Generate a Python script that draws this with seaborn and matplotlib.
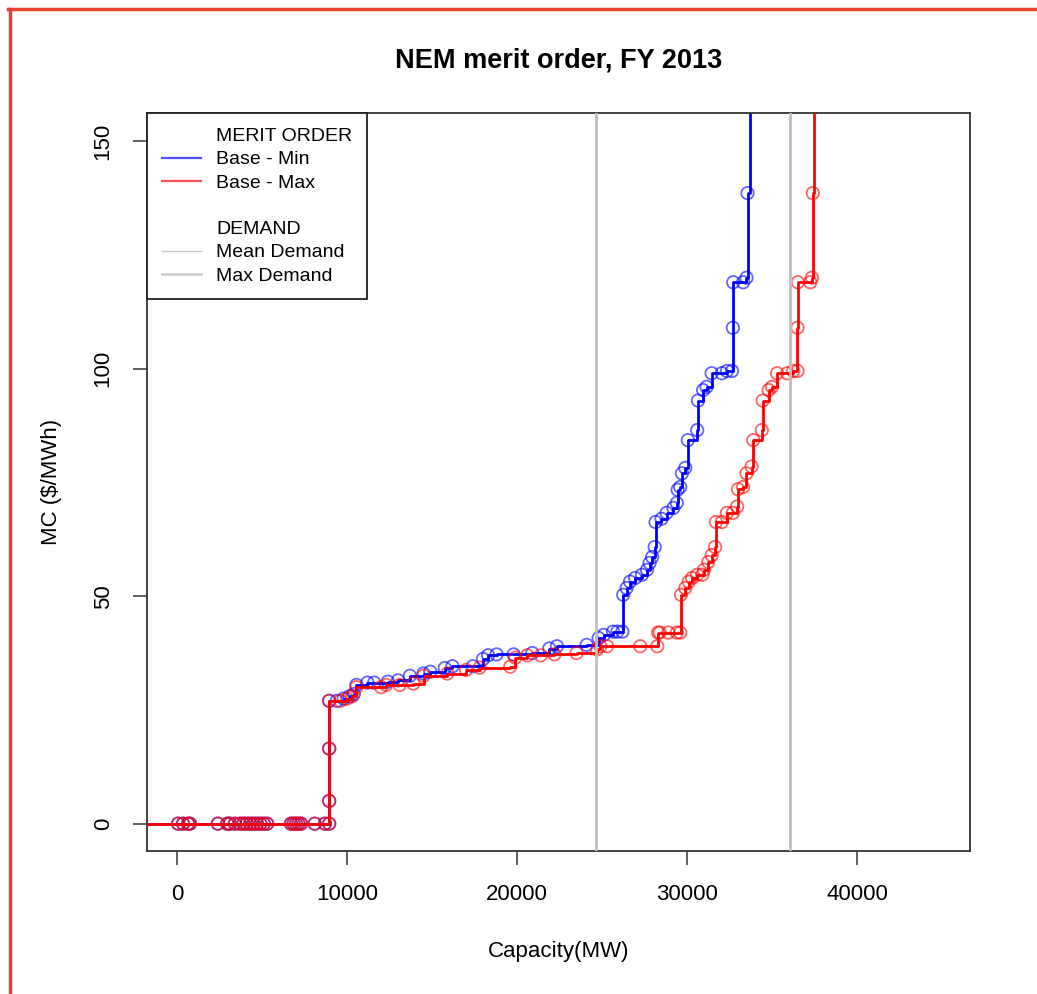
import pandas as pd
import seaborn as sns
import matplotlib.pyplot as plt
from matplotlib.lines import Line2D

# merit order, cumulative capacity (MW) vs marginal cost ($/MWh)
zero_cap = [-2500, 60, 350, 650, 760, 2400, 2950, 3100, 3400, 3700, 3900, 4100,
            4300, 4500, 4700, 4900, 5100, 5300, 6700, 6850, 7000, 7150, 7300,
            8100, 8700, 8950]

min_cap = zero_cap + [
    8950, 8950, 8950, 9400, 9800, 10150, 10400, 10550, 11200, 11600, 12400,
    13000, 13700, 14500, 14900, 15750, 16200, 17400, 18000, 18300, 18800,
    19800, 20900, 21900, 22350, 24100, 24800, 25100, 25650, 25900, 26200,
    26250, 26450, 26650, 26950, 27350, 27650, 27800, 27950, 28100, 28150,
    28500, 28800, 29200, 29400, 29450, 29600, 29700, 29900, 30050, 30600,
    30650, 30950, 31150, 31450, 32050, 32350, 32650, 32700, 32720, 33300,
    33500, 33560, 33700]
min_mc = [0] * len(zero_cap) + [
    5, 16.5, 27, 27, 27.5, 28, 28.5, 30.5, 31, 31, 31.2,
    31.5, 32.5, 33, 33.4, 34.2, 34.6, 34.6, 36.2, 37, 37.2,
    37.2, 37.5, 38.5, 39, 39.3, 40.8, 41.5, 42.2, 42.2, 42.2,
    50.3, 51.8, 53.2, 54, 54.7, 55.8, 57.3, 58.6, 60.8, 66.3,
    67, 68.3, 69.4, 70.5, 73.4, 74, 77, 78.2, 84.3, 86.5,
    93, 95.3, 96, 99, 99, 99.5, 99.5, 109, 119, 119,
    120, 138.6, 300]

max_cap = zero_cap + [
    8950, 8950, 8950, 9600, 10000, 10300, 10550, 12000, 12300, 13100, 13900,
    14500, 15900, 17000, 17800, 19600, 19900, 20600, 21400, 22200, 23500,
    24700, 24900, 25300, 27250, 28250, 28300, 28400, 28900, 29400, 29600,
    29650, 29900, 30100, 30300, 30600, 30900, 31000, 31250, 31450, 31650,
    31700, 32050, 32350, 32700, 32950, 33000, 33300, 33500, 33800, 33900,
    34400, 34450, 34800, 35000, 35300, 35900, 36250, 36500, 36500, 36520,
    37250, 37350, 37400, 37500]
max_mc = [0] * len(zero_cap) + [
    5, 16.5, 27, 27, 27.5, 28, 30, 30, 30.5, 30.5, 30.8,
    32.5, 33, 33.8, 34.3, 34.5, 36.5, 37, 37, 37.2, 37.5,
    38.3, 39, 39, 39, 39, 42, 42, 42, 42, 42,
    50.3, 51.8, 53.2, 54, 54.7, 54.7, 55.8, 57.5, 59, 60.8,
    66.3, 66.3, 68.3, 68.3, 69.7, 73.5, 74, 77, 78.5, 84.3,
    86.5, 93, 95.3, 96, 99, 99, 99.5, 99.5, 109, 119,
    119, 120, 138.6, 300]

mean_demand = 24650
max_demand = 36060

df_min = pd.DataFrame({'cap': min_cap, 'mc': min_mc})
df_max = pd.DataFrame({'cap': max_cap, 'mc': max_mc})

plt.rcParams['font.family'] = ['Liberation Sans', 'DejaVu Sans']

fig = plt.figure(figsize=(10.37, 9.94), dpi=100)
ax = fig.add_axes([0.1418, 0.1439, 0.7936, 0.7424])

sns.lineplot(data=df_min, x='cap', y='mc', estimator=None, sort=False,
             drawstyle='steps-post', color='#0000ff', lw=2.0, ax=ax, zorder=2)
sns.scatterplot(data=df_min, x='cap', y='mc', marker='o', s=80,
                facecolors='none', edgecolor='#0000ff', linewidth=1.3,
                alpha=0.6, ax=ax, zorder=3)
sns.lineplot(data=df_max, x='cap', y='mc', estimator=None, sort=False,
             drawstyle='steps-post', color='#ff0000', lw=2.0, ax=ax, zorder=4)
sns.scatterplot(data=df_max, x='cap', y='mc', marker='o', s=80,
                facecolors='none', edgecolor='#ff0000', linewidth=1.3,
                alpha=0.6, ax=ax, zorder=5)

ax.axvline(mean_demand, color='#bebebe', lw=2, zorder=6)
ax.axvline(max_demand, color='#bebebe', lw=2, zorder=6)

ax.set_xlim(-1765, 46650)
ax.set_ylim(-6, 156.2)
ax.set_xticks([0, 10000, 20000, 30000, 40000])
ax.set_yticks([0, 50, 100, 150])
for lab in ax.get_yticklabels():
    lab.set_rotation(90)
    lab.set_va('center')
ax.tick_params(axis='both', length=10, width=1.2, color='#444444',
               labelsize=16, pad=14)
for sp in ax.spines.values():
    sp.set_color('#333333')
    sp.set_linewidth(1.3)

ax.set_xlabel('Capacity(MW)', fontsize=16, labelpad=26)
ax.set_ylabel('MC ($/MWh)', fontsize=16, labelpad=22)
ax.set_title('NEM merit order, FY 2013', fontsize=19.5, fontweight='bold', pad=33)

blank = Line2D([], [], color='none')
handles = [blank,
           Line2D([], [], color='#5050ff', lw=1.6),
           Line2D([], [], color='#ff5050', lw=1.6),
           blank, blank,
           Line2D([], [], color='#c8c8c8', lw=1.0),
           Line2D([], [], color='#c8c8c8', lw=1.8)]
labels = ['MERIT ORDER', 'Base - Min', 'Base - Max', '', 'DEMAND',
          'Mean Demand', 'Max Demand']
leg = ax.legend(handles, labels, loc='upper left', bbox_to_anchor=(0, 1),
                borderaxespad=0, fontsize=14, frameon=True, fancybox=False,
                edgecolor='#222222', framealpha=1, handlelength=2.0,
                handletextpad=0.8, labelspacing=0.29, borderpad=0.75)
leg.get_frame().set_linewidth(1.3)
leg.set_zorder(10)

# red frame of the screenshot
fig.add_artist(Line2D([0.0092, 0.0092], [0, 0.9905], transform=fig.transFigure,
                      color='#e8412f', lw=2.5))
fig.add_artist(Line2D([0.0078, 1.0], [0.9905, 0.9905], transform=fig.transFigure,
                      color='#e8412f', lw=2.5))

plt.savefig('out.png', dpi=100)
